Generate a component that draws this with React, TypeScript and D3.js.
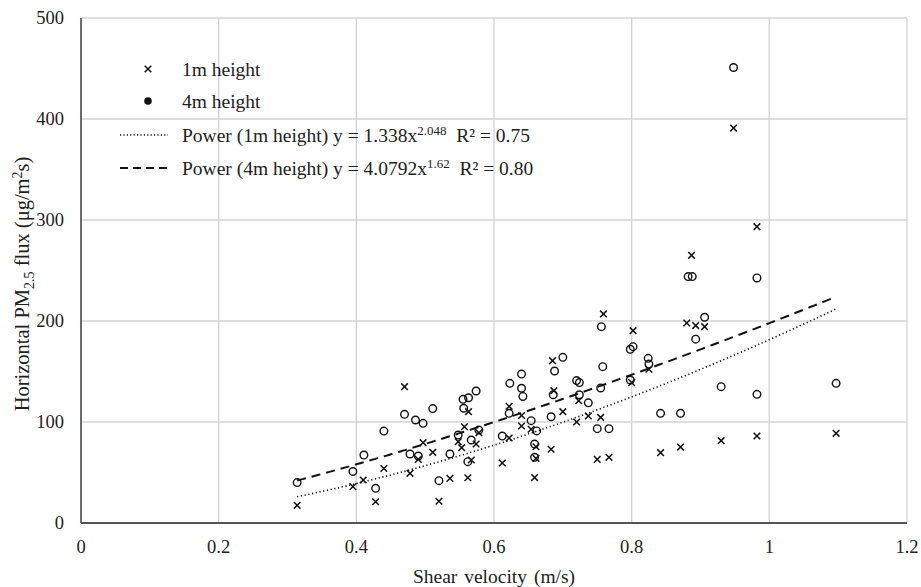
import React from "react";
import * as d3 from "d3";

const u1m = [0.314,0.395,0.41,0.428,0.44,0.47,0.478,0.49,0.497,0.511,0.52,0.536,0.548,0.553,0.557,0.562,0.563,0.567,0.574,0.578,0.612,0.622,0.622,0.64,0.64,0.654,0.661,0.661,0.659,0.683,0.685,0.687,0.70,0.72,0.723,0.737,0.755,0.759,0.75,0.767,0.802,0.8,0.825,0.842,0.871,0.88,0.887,0.893,0.906,0.93,0.948,0.982,0.982,1.097];
const f1m = [17.5,36,42.6,21,54,135,49.2,63,79.5,70,21.5,44.2,80.5,74.6,95.3,44.8,110.2,62.4,78.2,89.4,59.4,84.2,115.5,106.4,96,92.8,75.5,64,45,73,160.7,131,110.2,100,121,106,104.5,207,63,65,190.4,139,152.2,69.6,75.2,198,265,195.5,194.4,81.5,391,293.4,86.1,88.8];

const u4m = [0.314,0.395,0.411,0.428,0.44,0.47,0.478,0.486,0.49,0.497,0.511,0.52,0.536,0.548,0.555,0.556,0.562,0.563,0.567,0.574,0.578,0.612,0.622,0.623,0.64,0.64,0.642,0.654,0.662,0.659,0.659,0.683,0.688,0.686,0.70,0.72,0.724,0.724,0.737,0.755,0.758,0.756,0.75,0.767,0.798,0.802,0.798,0.824,0.825,0.842,0.871,0.882,0.888,0.893,0.906,0.93,0.948,0.982,0.982,1.097];
const f4m = [40,51,67.3,34.3,91,107.6,68.3,102,66.3,98.7,113.3,41.9,68.3,87.1,122.5,113.6,60.7,124,82.2,130.7,92,86.1,108.6,138.3,147.5,133.4,125.3,101.3,91.2,78.2,65,105.2,150.5,127,164,141,139,127,119,133.7,154.8,194.4,93.4,93.4,172,174.6,141.6,163,157.4,108.6,108.6,244,244,182,203.7,135,451,242.6,127.4,138.3];

// fitted power trendlines (as drawn on the chart), over the data range
const trend1m = { a: 181.5, b: 1.677 };
const trend4m = { a: 197.9, b: 1.338 };
const trendRange = [0.314, 1.097];

const xTicks = [0, 0.2, 0.4, 0.6, 0.8, 1, 1.2];
const yTicks = [0, 100, 200, 300, 400, 500];

const W = 921, H = 587;
const L = 81, R = 907, T = 18, B = 523;
const FONT = '"Liberation Serif", "DejaVu Serif", serif';

export default function App() {
  const x = d3.scaleLinear().domain([0, 1.2]).range([L, R]);
  const y = d3.scaleLinear().domain([0, 500]).range([B, T]);

  const trendPts = (t: { a: number; b: number }) =>
    d3.range(0, 101).map((i) => {
      const u = trendRange[0] + ((trendRange[1] - trendRange[0]) * i) / 100;
      return [u, t.a * Math.pow(u, t.b)] as [number, number];
    });
  const line = d3.line<[number, number]>().x((d) => x(d[0])).y((d) => y(d[1]));

  const cross = (cx: number, cy: number, k: string) => (
    <path key={k} d={`M${cx - 3.3},${cy - 3.3}L${cx + 3.3},${cy + 3.3}M${cx - 3.3},${cy + 3.3}L${cx + 3.3},${cy - 3.3}`} stroke="#111" strokeWidth={1.5} fill="none" />
  );

  const LX = 148, LT = 182, LL0 = 120, LL1 = 168;

  return (
    <svg width={W} height={H} style={{ position: "absolute", left: 0, top: 0, background: "#fff", fontFamily: FONT }}>
      {/* grid */}
      {yTicks.map((t) => (
        <line key={"gy" + t} x1={L} x2={R} y1={y(t)} y2={y(t)} stroke="#d4d4d4" strokeWidth={1.3} />
      ))}
      {xTicks.map((t) => (
        <line key={"gx" + t} x1={x(t)} x2={x(t)} y1={T} y2={B} stroke="#d4d4d4" strokeWidth={1.3} />
      ))}
      {/* axes */}
      <line x1={L} x2={L} y1={T} y2={B} stroke="#444" strokeWidth={1.5} />
      <line x1={L} x2={R} y1={B} y2={B} stroke="#555" strokeWidth={2.2} />

      {/* tick labels */}
      {yTicks.map((t) => (
        <text key={"ty" + t} x={64} y={y(t)} dy="0.35em" textAnchor="end" fontSize={18.5} fill="#222">{t}</text>
      ))}
      {xTicks.map((t) => (
        <text key={"tx" + t} x={x(t)} y={547} dy="0.35em" textAnchor="middle" fontSize={18.5} fill="#222">{t}</text>
      ))}

      {/* axis titles */}
      <text x={(L + R) / 2} y={576} dy="0.35em" textAnchor="middle" fontSize={19.5} fill="#222" wordSpacing={2}>Shear velocity (m/s)</text>
      <text transform={`translate(22,284) rotate(-90)`} textAnchor="middle" fontSize={20.5} fill="#222" dy="0.35em">
        Horizontal PM<tspan fontSize={14} dy="5">2.5</tspan><tspan dy="-5"> flux (μg/m</tspan><tspan fontSize={14} dy="-7">2</tspan><tspan dy="7">s)</tspan>
      </text>

      {/* trendlines */}
      <path d={line(trendPts(trend1m)) || ""} fill="none" stroke="#111" strokeWidth={1.6} strokeDasharray="1.2 2.6" />
      <path d={line(trendPts(trend4m)) || ""} fill="none" stroke="#111" strokeWidth={2} strokeDasharray="9 6" />

      {/* points */}
      {u4m.map((u, i) => (
        <circle key={"c" + i} cx={x(u)} cy={y(f4m[i])} r={3.8} fill="none" stroke="#111" strokeWidth={1.4} />
      ))}
      {u1m.map((u, i) => cross(x(u), y(f1m[i]), "x" + i))}

      {/* legend */}
      <g fontSize={19.5} fill="#222">
        {cross(LX, 69, "lx")}
        <text x={LT} y={69} dy="0.35em">1m height</text>
        <circle cx={LX} cy={101} r={3.8} fill="#111" />
        <text x={LT} y={101} dy="0.35em">4m height</text>
        <line x1={LL0} x2={LL1} y1={135} y2={135} stroke="#111" strokeWidth={1.5} strokeDasharray="1.2 2.2" />
        <text x={LT} y={135} dy="0.35em">
          Power (1m height) y = 1.338x<tspan fontSize={13} dy="-7">2.048</tspan><tspan dy="7">{"\u00a0\u00a0"}R² = 0.75</tspan>
        </text>
        <line x1={LL0} x2={LL1} y1={168} y2={168} stroke="#111" strokeWidth={2.2} strokeDasharray="8 5" />
        <text x={LT} y={168} dy="0.35em">
          Power (4m height) y = 4.0792x<tspan fontSize={13} dy="-7">1.62</tspan><tspan dy="7">{"\u00a0\u00a0"}R² = 0.80</tspan>
        </text>
      </g>
    </svg>
  );
}
